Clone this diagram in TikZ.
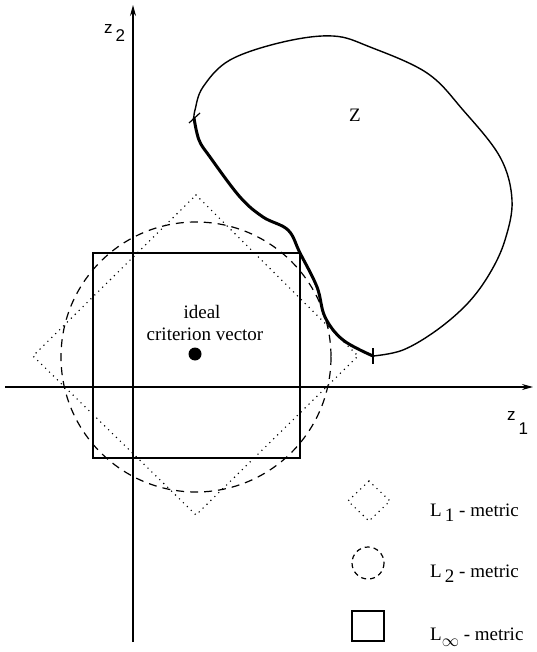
\documentclass[tikz,border=0pt]{standalone}
\usepackage{fontspec}
\setmainfont{Liberation Serif}
\newfontfamily\axisfont{Liberation Sans}
\usetikzlibrary{arrows.meta}
\begin{document}
\begin{tikzpicture}[x=1pt,y=-1pt,
  axis/.style={line width=1.4pt,-{Stealth[length=11pt,width=6pt]}},
  lone/.style={line width=1.6pt,dash pattern=on 0pt off 5.5pt,line cap=round},
  ltwo/.style={line width=1.2pt,dash pattern=on 8pt off 6pt},
  linf/.style={line width=1.2pt},
  thickpart/.style={line width=3pt,line cap=round},
  thinpart/.style={line width=1.4pt},
  lbl/.style={font=\fontsize{19}{21}\selectfont,inner sep=0pt},
  axlbl/.style={font=\axisfont\fontsize{17}{19}\selectfont,inner sep=0pt},
]
\useasboundingbox (0,0) rectangle (537,652);
% axes
\coordinate (xs) at (5,387);
\coordinate (xe) at (533,387);
\coordinate (ys) at (133,642);
\coordinate (ye) at (133,5);
\draw[axis] (xs) -- (xe);
\draw[axis] (ys) -- (ye);
\node[axlbl,anchor=base west] (z2) at (104,34) {z\raisebox{-8pt}{\,2}};
\node[axlbl,anchor=base west] (z1) at (507,420) {z\raisebox{-14pt}{\,1}};
% metrics
\draw[linf] (93,253) rectangle (300,458);
\draw[ltwo] (196,357) circle[radius=135];
\draw[lone] (196,195) -- (358,356) -- (196,515) -- (33,356) -- cycle;
% ideal criterion vector
\fill (195,354) circle[radius=6.5];
\node[lbl] (ideal) at (202,312) {ideal};
\node[lbl] (crit) at (205,334) {criterion vector};
% set Z
\draw[thinpart] plot[smooth,tension=0.6] coordinates {(373,356) (403,350) (437,330) (468,303) (490,273) (505,240) (512,200) (500,157) (463,110) (427,73) (370,47) (333,36) (283,42) (230,60) (203,87) (195,110) (194,118)};
\draw[thickpart] plot[smooth,tension=0.6] coordinates {(194,118) (199,140) (210,157) (240,197) (263,217) (288,230) (300,253) (317,287) (325,317) (343,340) (373,356)};
\draw[line width=1.2pt] (189,123) -- (200,113);
\draw[line width=1.2pt] (373,348) -- (373,364);
\node[lbl] (Z) at (355,115) {Z};
% legend
\draw[lone] (369,481) -- (390,501) -- (369,521) -- (348,501) -- cycle;
\draw[ltwo,dash pattern=on 5pt off 4pt] (368,563) circle[radius=16];
\draw[linf] (352,611) rectangle (384,641);
\node[lbl,anchor=base west] (l1) at (430,516) {L\,\raisebox{-5pt}{1} - metric};
\node[lbl,anchor=base west] (l2) at (430,577) {L\,\raisebox{-5pt}{2} - metric};
\node[lbl,anchor=base west] (linf) at (430,640) {L\raisebox{-6pt}{$\infty$} - metric};
\end{tikzpicture}
\end{document}
